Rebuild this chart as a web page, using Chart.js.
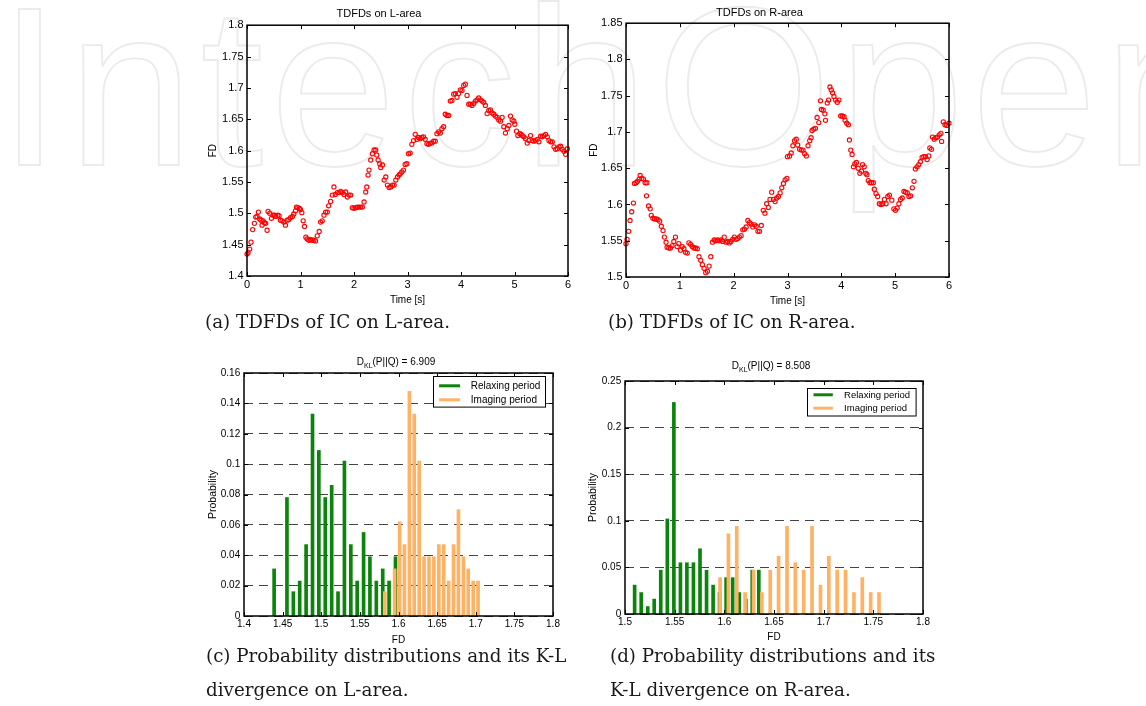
<!DOCTYPE html>
<html lang="en">
<head>
  <meta charset="UTF-8">
  <title>TDFDs and K-L divergence</title>
  <script src="https://cdn.jsdelivr.net/npm/chart.js"></script>
  <style>
    * { box-sizing: border-box; }
    body { margin:0; width:1146px; height:706px; overflow:hidden; position:relative; background:#fff; font-family:'Liberation Sans', Arial, sans-serif; }
    .wm { position:absolute; left:-2px; top:-26px; font:226px/1 'Liberation Sans', Arial, sans-serif; letter-spacing:7px; color:transparent; -webkit-text-stroke:1.8px #ebebeb; white-space:nowrap; }
    .box { position:absolute; }
    .kl { position:absolute; width:200px; text-align:center; font:10px/12px 'Liberation Sans', Arial, sans-serif; color:#000; }
    .kl sub { font-size:7px; vertical-align:-3px; line-height:0; }
    .cap { position:absolute; font:18.3px/34px 'DejaVu Serif', serif; color:#1a1a1a; white-space:nowrap; }
  </style>
</head>
<body>
  <div class="wm">IntechOpen</div>

  <div class="box" style="left:190px;top:0;width:390px;height:312px"><canvas id="chartA"></canvas></div>
  <div class="box" style="left:570px;top:0;width:390px;height:312px"><canvas id="chartB"></canvas></div>
  <div class="box" style="left:190px;top:340px;width:375px;height:310px"><canvas id="chartC"></canvas></div>
  <div class="box" style="left:570px;top:340px;width:365px;height:310px"><canvas id="chartD"></canvas></div>

  <div class="kl" style="left:296px;top:356px">D<sub>KL</sub>(P||Q) = 6.909</div>
  <div class="kl" style="left:671px;top:360px">D<sub>KL</sub>(P||Q) = 8.508</div>

  <div class="cap" style="left:205px;top:305px">(a) TDFDs of IC on L-area.</div>
  <div class="cap" style="left:608px;top:305px">(b) TDFDs of IC on R-area.</div>
  <div class="cap" style="left:206px;top:639px">(c) Probability distributions and its K-L<br>divergence on L-area.</div>
  <div class="cap" style="left:610px;top:639px">(d) Probability distributions and its<br>K-L divergence on R-area.</div>

  <script>
    // (a) TDFDs on L-area
    const timeL = [
      0,0.019,0.05,0.075,0.106,0.138,0.163,0.188,0.213,0.238,
      0.263,0.281,0.3,0.325,0.35,0.375,0.394,0.425,0.456,0.488,
      0.513,0.538,0.575,0.6,0.625,0.656,0.688,0.719,0.75,0.781,
      0.813,0.85,0.875,0.906,0.925,0.95,0.981,1.0,1.025,1.05,
      1.075,1.1,1.125,1.156,1.188,1.219,1.25,1.281,1.313,1.35,
      1.375,1.406,1.438,1.469,1.5,1.525,1.563,1.594,1.625,1.65,
      1.688,1.719,1.75,1.781,1.813,1.844,1.875,1.906,1.938,1.969,
      2.0,2.031,2.063,2.094,2.125,2.156,2.188,2.219,2.238,2.263,
      2.281,2.313,2.344,2.375,2.406,2.425,2.45,2.481,2.5,2.531,
      2.563,2.594,2.625,2.656,2.688,2.719,2.75,2.781,2.813,2.844,
      2.863,2.894,2.925,2.956,2.988,3.019,3.05,3.081,3.113,3.144,
      3.175,3.206,3.238,3.269,3.3,3.331,3.363,3.394,3.425,3.456,
      3.488,3.519,3.55,3.581,3.613,3.644,3.675,3.706,3.738,3.769,
      3.8,3.831,3.863,3.894,3.925,3.956,3.988,4.019,4.05,4.081,
      4.113,4.144,4.175,4.206,4.238,4.269,4.3,4.331,4.363,4.394,
      4.425,4.456,4.488,4.519,4.55,4.581,4.613,4.644,4.675,4.706,
      4.738,4.769,4.8,4.831,4.863,4.894,4.925,4.956,4.988,5.006,
      5.038,5.063,5.1,5.125,5.144,5.175,5.206,5.238,5.269,5.3,
      5.331,5.363,5.394,5.425,5.456,5.488,5.519,5.55,5.581,5.613,
      5.644,5.675,5.706,5.738,5.769,5.8,5.831,5.863,5.894,5.925,
      5.956,5.988
    ];
    const fdL = [
      1.435,1.437,1.443,1.454,1.474,1.484,1.494,1.495,1.502,1.491,
      1.489,1.481,1.488,1.485,1.484,1.473,1.503,1.5,1.492,1.497,
      1.497,1.495,1.497,1.496,1.489,1.488,1.486,1.481,1.489,1.49,
      1.493,1.495,1.499,1.504,1.51,1.509,1.508,1.506,1.501,1.488,
      1.479,1.462,1.459,1.457,1.458,1.457,1.457,1.456,1.464,1.471,
      1.486,1.488,1.497,1.502,1.502,1.512,1.519,1.529,1.542,1.53,
      1.533,1.533,1.535,1.533,1.53,1.534,1.526,1.529,1.529,1.509,
      1.508,1.509,1.51,1.51,1.51,1.51,1.518,1.534,1.542,1.561,
      1.569,1.585,1.595,1.601,1.601,1.593,1.585,1.579,1.573,1.577,
      1.553,1.558,1.545,1.541,1.542,1.545,1.545,1.553,1.558,1.561,
      1.563,1.566,1.569,1.578,1.579,1.595,1.596,1.61,1.616,1.626,
      1.618,1.621,1.619,1.621,1.622,1.618,1.611,1.61,1.612,1.612,
      1.615,1.615,1.627,1.63,1.628,1.635,1.638,1.658,1.656,1.656,
      1.679,1.68,1.69,1.691,1.685,1.691,1.697,1.696,1.704,1.706,
      1.688,1.674,1.674,1.672,1.675,1.679,1.681,1.684,1.681,1.679,
      1.677,1.672,1.659,1.664,1.665,1.66,1.658,1.655,1.653,1.649,
      1.647,1.653,1.638,1.628,1.635,1.64,1.655,1.649,1.647,1.642,
      1.631,1.624,1.627,1.626,1.624,1.622,1.619,1.612,1.616,1.624,
      1.616,1.615,1.616,1.618,1.614,1.623,1.622,1.624,1.626,1.622,
      1.616,1.614,1.614,1.606,1.602,1.603,1.606,1.607,1.602,1.599,
      1.594,1.603
    ];

    // (b) TDFDs on R-area
    const timeR = [
      0,0.019,0.05,0.075,0.106,0.138,0.156,0.188,0.213,0.244,
      0.263,0.294,0.325,0.356,0.381,0.388,0.419,0.45,0.469,0.5,
      0.531,0.563,0.594,0.625,0.656,0.688,0.713,0.744,0.763,0.794,
      0.825,0.856,0.888,0.919,0.95,0.981,1.013,1.044,1.075,1.106,
      1.138,1.169,1.2,1.231,1.263,1.294,1.325,1.356,1.388,1.419,
      1.45,1.481,1.513,1.544,1.575,1.606,1.638,1.669,1.7,1.731,
      1.763,1.794,1.825,1.856,1.888,1.919,1.95,1.981,2.013,2.044,
      2.075,2.106,2.138,2.169,2.2,2.231,2.263,2.294,2.325,2.356,
      2.388,2.419,2.45,2.481,2.513,2.55,2.581,2.613,2.644,2.675,
      2.706,2.738,2.769,2.8,2.831,2.863,2.894,2.925,2.956,2.988,
      3.0,3.038,3.069,3.1,3.131,3.163,3.188,3.225,3.256,3.288,
      3.319,3.35,3.381,3.413,3.438,3.456,3.488,3.519,3.55,3.581,
      3.613,3.631,3.663,3.694,3.706,3.738,3.763,3.788,3.813,3.838,
      3.863,3.894,3.925,3.956,3.988,4.019,4.05,4.069,4.1,4.131,
      4.15,4.175,4.2,4.225,4.25,4.281,4.313,4.344,4.375,4.394,
      4.425,4.456,4.475,4.5,4.531,4.563,4.594,4.613,4.644,4.675,
      4.706,4.738,4.769,4.8,4.831,4.863,4.894,4.938,4.975,5.006,
      5.038,5.069,5.1,5.131,5.163,5.194,5.225,5.256,5.288,5.319,
      5.35,5.375,5.406,5.438,5.469,5.5,5.531,5.563,5.594,5.625,
      5.644,5.675,5.694,5.725,5.756,5.788,5.819,5.85,5.863,5.894,
      5.925,5.956,6.0
    ];
    const fdR = [
      1.546,1.552,1.563,1.578,1.59,1.602,1.629,1.63,1.632,1.635,
      1.64,1.636,1.635,1.63,1.612,1.63,1.598,1.594,1.585,1.581,
      1.58,1.58,1.579,1.577,1.57,1.564,1.555,1.548,1.541,1.54,
      1.54,1.543,1.549,1.555,1.542,1.546,1.537,1.542,1.539,1.534,
      1.533,1.547,1.545,1.542,1.54,1.54,1.539,1.528,1.523,1.517,
      1.512,1.506,1.508,1.515,1.528,1.548,1.551,1.55,1.551,1.55,
      1.551,1.549,1.555,1.548,1.549,1.547,1.549,1.552,1.555,1.552,
      1.553,1.555,1.557,1.565,1.566,1.569,1.578,1.575,1.573,1.569,
      1.572,1.57,1.563,1.563,1.571,1.592,1.588,1.601,1.596,1.607,
      1.617,1.607,1.604,1.609,1.611,1.616,1.623,1.629,1.634,1.636,
      1.666,1.667,1.671,1.681,1.688,1.69,1.682,1.676,1.675,1.675,
      1.67,1.667,1.681,1.688,1.692,1.702,1.704,1.705,1.72,1.713,
      1.743,1.731,1.73,1.725,1.716,1.74,1.744,1.762,1.758,1.754,
      1.749,1.744,1.741,1.744,1.722,1.722,1.721,1.716,1.712,1.71,
      1.689,1.675,1.669,1.652,1.656,1.658,1.65,1.643,1.646,1.655,
      1.652,1.643,1.641,1.633,1.63,1.63,1.63,1.621,1.615,1.611,
      1.601,1.6,1.601,1.607,1.601,1.611,1.613,1.606,1.594,1.592,
      1.595,1.601,1.607,1.609,1.618,1.617,1.616,1.611,1.612,1.623,
      1.632,1.649,1.652,1.655,1.659,1.665,1.666,1.666,1.662,1.667,
      1.678,1.676,1.693,1.69,1.692,1.693,1.696,1.698,1.687,1.714,
      1.71,1.709,1.712
    ];

    // (c) histogram, L-area
    const binsRelaxL = [1.439,1.4474,1.4556,1.4639,1.4721,1.4804,1.4887,1.4969,1.5052,1.5135,
                        1.5217,1.53,1.5383,1.5465,1.5548,1.563,1.5713,1.5796,1.5878,1.5961];
    const probRelaxL = [0.031,0,0.078,0.016,0.023,0.047,0.133,0.109,0.078,0.086,
                        0.016,0.102,0.047,0.023,0.055,0.039,0.023,0.031,0.023,0.039];
    const binsImageL = [1.5823,1.5887,1.595,1.6014,1.6077,1.6141,1.6204,1.6268,1.6331,1.6395,
                        1.6458,1.6522,1.6585,1.6649,1.6712,1.6776,1.684,1.6903,1.6967,1.703];
    const probImageL = [0.016,0,0.031,0.062,0.047,0.148,0.133,0.102,0.039,0.039,
                        0.039,0.047,0.047,0.023,0.047,0.07,0.039,0.031,0.023,0.023];

    // (d) histogram, R-area
    const binsRelaxR = [1.5097,1.5163,1.5229,1.5294,1.536,1.5426,1.5492,1.5558,1.5623,1.5689,
                        1.5755,1.5821,1.5887,1.5952,1.6018,1.6084,1.615,1.6216,1.6281,1.6347];
    const probRelaxR = [0.031,0.023,0.008,0.016,0.047,0.102,0.227,0.055,0.055,0.055,
                        0.07,0.047,0.031,0.023,0.039,0.039,0.023,0.016,0.047,0.047];
    const binsImageR = [1.5957,1.6041,1.6125,1.6209,1.6294,1.6378,1.6462,1.6546,1.6631,1.6715,
                        1.6799,1.6883,1.6968,1.7052,1.7136,1.722,1.7305,1.7389,1.7473,1.7557];
    const probImageR = [0.039,0.086,0.094,0.023,0.047,0.023,0.047,0.062,0.094,0.055,
                        0.047,0.094,0.031,0.062,0.047,0.047,0.023,0.039,0.023,0.023];

    const seriesLabels = ['Relaxing period', 'Imaging period'];
    const relaxColor = '#0a840a';
    const imageColor = '#ffb164';

    const SANS = "'Liberation Sans', Arial, sans-serif";
    const NARROW = "'Liberation Sans Narrow', 'Liberation Sans', Arial, sans-serif";
    const fmt = v => String(+Number(v).toFixed(4));
    const pairs = (xs, ys) => xs.map((x, i) => ({ x, y: ys[i] }));

    // MATLAB-like box with inward ticks on every side
    const matlabFrame = {
      id: 'matlabFrame',
      afterDatasetsDraw(chart) {
        const { ctx, chartArea: a, scales: { x, y } } = chart;
        ctx.save();
        ctx.strokeStyle = '#000';
        ctx.lineWidth = 1;
        ctx.beginPath();
        x.ticks.forEach(t => {
          const px = Math.round(x.getPixelForValue(t.value)) + 0.5;
          ctx.moveTo(px, a.top); ctx.lineTo(px, a.top + 4);
          ctx.moveTo(px, a.bottom); ctx.lineTo(px, a.bottom - 4);
        });
        y.ticks.forEach(t => {
          const py = Math.round(y.getPixelForValue(t.value)) + 0.5;
          ctx.moveTo(a.left, py); ctx.lineTo(a.left + 4, py);
          ctx.moveTo(a.right, py); ctx.lineTo(a.right - 4, py);
        });
        ctx.stroke();
        ctx.lineWidth = 1.5;
        ctx.strokeRect(a.left, a.top, a.right - a.left, a.bottom - a.top);
        ctx.restore();
      }
    };

    // legend drawn inside the plot, top right, with a black box
    const boxLegend = {
      id: 'boxLegend',
      afterDraw(chart, args, o) {
        const { ctx, chartArea: a } = chart;
        const x0 = Math.round(a.right - o.right - o.width) + 0.5;
        const y0 = Math.round(a.top + o.top) + 0.5;
        ctx.save();
        ctx.fillStyle = '#fff';
        ctx.fillRect(x0, y0, o.width, o.height);
        ctx.strokeStyle = '#000';
        ctx.lineWidth = 1;
        ctx.strokeRect(x0, y0, o.width, o.height);
        ctx.font = o.fontSize + 'px ' + SANS;
        ctx.textBaseline = 'middle';
        chart.data.datasets.forEach((ds, i) => {
          const cy = y0 + o.rowTop + i * o.rowGap;
          ctx.strokeStyle = ds.backgroundColor;
          ctx.lineWidth = 3;
          ctx.beginPath();
          ctx.moveTo(x0 + o.lineFrom, cy);
          ctx.lineTo(x0 + o.lineTo, cy);
          ctx.stroke();
          ctx.fillStyle = '#000';
          ctx.fillText(ds.label, x0 + o.textAt, cy + 0.5);
        });
        ctx.restore();
      }
    };

    function makeScatter(id, c) {
      return new Chart(document.getElementById(id), {
        type: 'scatter',
        data: { datasets: [{
          data: pairs(c.time, c.fd),
          borderColor: '#ff0000', backgroundColor: 'rgba(255,255,255,0)',
          pointRadius: 2.1, borderWidth: 1.1, clip: false
        }]},
        options: {
          responsive: true, maintainAspectRatio: false, animation: false,
          layout: { padding: { top: 0, right: c.padRight, left: 0, bottom: 0 } },
          plugins: {
            legend: { display: false }, tooltip: { enabled: false },
            title: { display: true, text: c.title, color: '#000',
                     font: { family: SANS, size: 11, weight: 'normal' }, padding: c.titlePad }
          },
          scales: {
            x: {
              type: 'linear', min: 0, max: 6,
              ticks: { stepSize: 1, autoSkip: false, maxRotation: 0, padding: c.xTickPad, color: '#000',
                       font: { family: NARROW, size: 11 }, callback: fmt },
              grid: { display: false, drawTicks: false }, border: { display: false },
              title: { display: true, text: 'Time [s]', color: '#000', font: { family: SANS, size: 10 },
                       padding: { top: 0, bottom: c.xTitlePad } },
              afterFit: s => { s.height = c.xHeight; }
            },
            y: {
              min: c.yMin, max: c.yMax,
              ticks: { stepSize: 0.05, autoSkip: false, padding: 3.5, color: '#000',
                       font: { family: NARROW, size: 11 }, callback: fmt },
              grid: { display: false, drawTicks: false }, border: { display: false },
              title: { display: true, text: 'FD', color: '#000', font: { family: SANS, size: 10 },
                       padding: { top: c.yTitlePad, bottom: 0 } },
              afterFit: s => { s.width = c.yWidth; }
            }
          }
        },
        plugins: [matlabFrame]
      });
    }

    function makeHist(id, c) {
      return new Chart(document.getElementById(id), {
        type: 'bar',
        data: { datasets: [
          { label: seriesLabels[0], data: pairs(c.relaxBins, c.relaxProb), backgroundColor: relaxColor,
            barThickness: 3, grouped: false, order: 1 },
          { label: seriesLabels[1], data: pairs(c.imageBins, c.imageProb), backgroundColor: imageColor,
            barThickness: 3, grouped: false, order: 0 }
        ]},
        options: {
          responsive: true, maintainAspectRatio: false, animation: false,
          layout: { padding: { top: c.padTop, right: 12, left: 0, bottom: 0 } },
          plugins: { legend: { display: false }, tooltip: { enabled: false }, boxLegend: c.legend },
          scales: {
            x: {
              type: 'linear', min: c.xMin, max: 1.8, offset: false,
              ticks: { stepSize: 0.05, autoSkip: false, maxRotation: 0, padding: c.xTickPad, color: '#000',
                       font: { family: NARROW, size: 10 }, callback: fmt },
              grid: { display: false, drawTicks: false, offset: false }, border: { display: false },
              title: { display: true, text: 'FD', color: '#000', font: { family: SANS, size: 10 },
                       padding: { top: 0, bottom: c.xTitlePad } },
              afterFit: s => { s.height = c.xHeight; }
            },
            y: {
              min: 0, max: c.yMax,
              ticks: { stepSize: c.yStep, autoSkip: false, padding: 3.8, color: '#000',
                       font: { family: NARROW, size: 10 }, callback: fmt },
              grid: { display: true, drawTicks: false, color: '#444', lineWidth: 1 },
              border: { display: false, dash: [9, 6] },
              title: { display: true, text: 'Probability', color: '#000', font: { family: SANS, size: 10.5 },
                       padding: { top: 17, bottom: 0 } },
              afterFit: s => { s.width = c.yWidth; }
            }
          }
        },
        plugins: [matlabFrame, boxLegend]
      });
    }

    makeScatter('chartA', {
      time: timeL, fd: fdL, title: 'TDFDs on L-area', yMin: 1.4, yMax: 1.8,
      padRight: 12, titlePad: { top: 7, bottom: 5 }, xTickPad: 2.4, xTitlePad: 6,
      xHeight: 36, yWidth: 57, yTitlePad: 17
    });
    makeScatter('chartB', {
      time: timeR, fd: fdR, title: 'TDFDs on R-area', yMin: 1.5, yMax: 1.85,
      padRight: 11, titlePad: { top: 6, bottom: 4 }, xTickPad: 2.5, xTitlePad: 5,
      xHeight: 35, yWidth: 56, yTitlePad: 18
    });
    makeHist('chartC', {
      relaxBins: binsRelaxL, relaxProb: probRelaxL, imageBins: binsImageL, imageProb: probImageL,
      xMin: 1.4, yMax: 0.16, yStep: 0.02, padTop: 33, xTickPad: 2, xTitlePad: 4, xHeight: 34, yWidth: 54,
      legend: { right: 7.7, top: 3.4, width: 112, height: 30.6, rowTop: 9.3, rowGap: 14,
                lineFrom: 5.6, lineTo: 26.6, textAt: 37.3, fontSize: 10 }
    });
    makeHist('chartD', {
      relaxBins: binsRelaxR, relaxProb: probRelaxR, imageBins: binsImageR, imageProb: probImageR,
      xMin: 1.5, yMax: 0.25, yStep: 0.05, padTop: 41, xTickPad: 2, xTitlePad: 6.5, xHeight: 36, yWidth: 55,
      legend: { right: 7.4, top: 7.2, width: 108.6, height: 27.5, rowTop: 6.3, rowGap: 13.4,
                lineFrom: 6, lineTo: 25.3, textAt: 36.6, fontSize: 9.5 }
    });
  </script>
</body>
</html>
